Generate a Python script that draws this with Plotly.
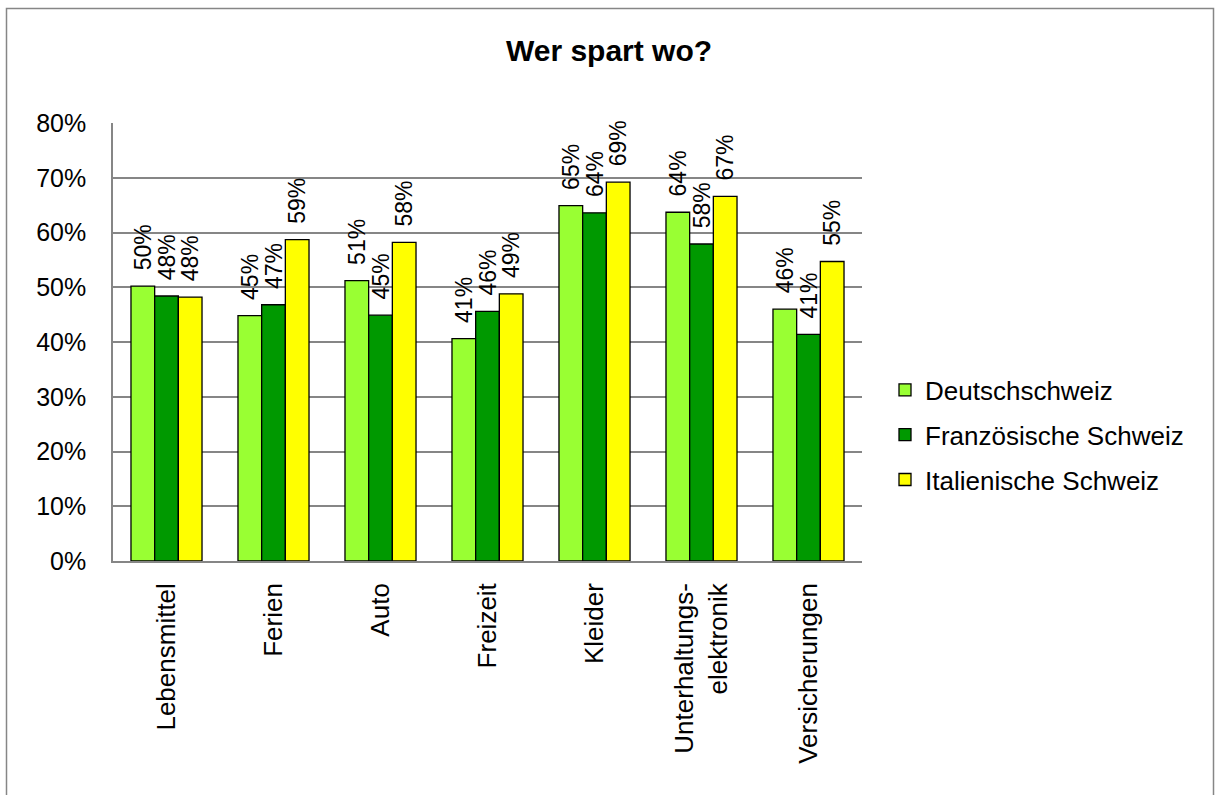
import plotly.graph_objects as go

categories = ["Lebensmittel", "Ferien", "Auto", "Freizeit", "Kleider",
              "Unterhaltungs-<br>elektronik", "Versicherungen"]
series_names = ["Deutschschweiz", "Französische Schweiz", "Italienische Schweiz"]
deutschschweiz = [0.502, 0.448, 0.512, 0.406, 0.649, 0.637, 0.460]
franzoesisch = [0.484, 0.468, 0.449, 0.456, 0.636, 0.579, 0.414]
italienisch = [0.482, 0.587, 0.582, 0.488, 0.692, 0.666, 0.547]
colors = ["#99FF33", "#009900", "#FFFF00"]
ytick_vals = [0, 0.1, 0.2, 0.3, 0.4, 0.5, 0.6, 0.7, 0.8]
ytick_text = ["0%", "10%", "20%", "30%", "40%", "50%", "60%", "70%", "80%"]

FONT = "Liberation Sans, Arial, sans-serif"

fig = go.Figure()
for name, vals, col in zip(series_names, [deutschschweiz, franzoesisch, italienisch], colors):
    fig.add_trace(go.Bar(
        name=name, x=categories, y=vals,
        marker=dict(color=col, line=dict(color="#000000", width=1.3)),
        text=["\u00a0\u00a0" + f"{round(v*100):d}%" for v in vals],
        textposition="outside", textangle=-90, constraintext="none",
        cliponaxis=False,
        textfont=dict(family=FONT, size=23, color="#000000"),
        legendgroup=name,
    ))

W, H = 1215, 795
L, R, T, B = 113, 353, 123, 234
pw, ph = W - L - R, H - T - B

def px_x(x):
    return (x - L) / pw

def px_y(y):
    return (H - B - y) / ph

fig.update_layout(
    width=W, height=H,
    margin=dict(l=L, r=R, t=T, b=B, autoexpand=False),
    paper_bgcolor="white", plot_bgcolor="white",
    barmode="group", bargap=0.336, bargroupgap=0,
    font=dict(family=FONT, color="#000000"),
    title=dict(text="<b>Wer spart wo?</b>", x=609 / W, xanchor="center",
               y=1 - 50 / H, yanchor="middle",
               font=dict(family=FONT, size=30, color="#000000")),
    legend=dict(x=px_x(885), xanchor="left", y=px_y(435), yanchor="middle",
                font=dict(family=FONT, size=26, color="#000000"),
                tracegroupgap=8, traceorder="grouped", bgcolor="rgba(0,0,0,0)"),
    xaxis=dict(showline=True, linecolor="#868686", linewidth=1.5,
               tickangle=-90, ticks="", ticklabelstandoff=10,
               tickfont=dict(family=FONT, size=26, color="#000000"),
               showgrid=False),
    yaxis=dict(range=[0, 0.8], tickvals=ytick_vals, ticktext=ytick_text,
               showline=True, linecolor="#868686", linewidth=1.5,
               showgrid=True, gridcolor="#868686", gridwidth=1.5,
               zeroline=False, ticks="", ticklabelstandoff=20,
               tickfont=dict(family=FONT, size=25, color="#000000")),
    shapes=[dict(type="rect", xref="paper", yref="paper",
                 x0=px_x(6.5), x1=px_x(1213.5), y0=px_y(800), y1=px_y(8.5),
                 line=dict(color="#868686", width=1.5), layer="below")],
)

fig.write_html("out.html", config={"displayModeBar": False},
               post_script="document.body.style.margin='0';document.body.style.overflow='hidden';")
